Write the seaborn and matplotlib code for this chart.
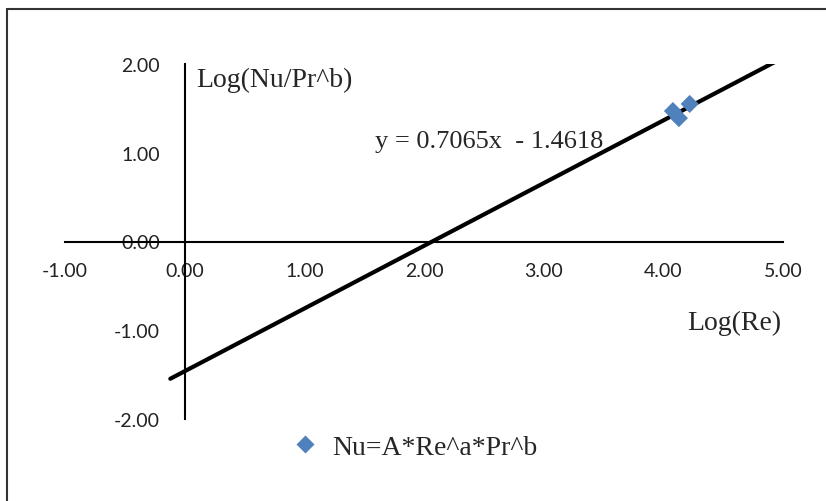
import numpy as np
import pandas as pd
import matplotlib.pyplot as plt
import seaborn as sns
from matplotlib.lines import Line2D

# dados
log_re = [4.08, 4.13, 4.22]
log_nu_pr = [1.47, 1.39, 1.55]
serie = "Nu=A*Re^a*Pr^b"

# linha de tendencia (Excel)
inclinacao = 0.7065
intercepto = -1.4618
tend_x = [-0.12, 5.0]

x_ticks = [-1, 0, 1, 2, 3, 4, 5]
y_ticks = [-2, -1, 0, 1, 2]

df = pd.DataFrame({"x": log_re, "y": log_nu_pr, "serie": serie})
tend = pd.DataFrame({"x": tend_x})
tend["y"] = inclinacao * tend["x"] + intercepto

sns.set_style("white")
plt.rcParams["font.family"] = ["Lato", "DejaVu Sans"]

fig = plt.figure(figsize=(8.26, 5.02), dpi=100)
ax = fig.add_axes([65 / 826, 1 - 420 / 502, 718 / 826, 355 / 502])

sns.lineplot(data=tend, x="x", y="y", color="black", linewidth=3, ax=ax, legend=False)
sns.scatterplot(data=df, x="x", y="y", hue="serie", palette=["#4F81BD"], marker="D",
                s=85, edgecolor="none", ax=ax, zorder=3)

ax.set_xlim(-1, 5)
ax.set_ylim(-2, 2)
ax.set_xticks(x_ticks)
ax.set_yticks(y_ticks)
ax.set_xticklabels([f"{v:.2f}" for v in x_ticks])
ax.set_yticklabels([f"{v:.2f}" for v in y_ticks])
ax.tick_params(axis="x", length=0, pad=15, labelsize=14, colors="#222222")
ax.tick_params(axis="y", length=0, pad=18, labelsize=14, colors="#222222")
ax.set_xlabel("")
ax.set_ylabel("")

# eixos cruzando na origem
for lado in ["top", "right"]:
    ax.spines[lado].set_visible(False)
ax.spines["left"].set_position(("data", 0))
ax.spines["bottom"].set_position(("data", 0))
for lado in ["left", "bottom"]:
    ax.spines[lado].set_color("black")
    ax.spines[lado].set_linewidth(1.5)
ax.patch.set_alpha(0)

serif = ["Liberation Serif", "DejaVu Serif"]
ax.text(0.094, 1.83, "Log(Nu/Pr^b)", family=serif, fontsize=20, va="center", ha="left")
ax.text(4.2, -0.91, "Log(Re)", family=serif, fontsize=20, va="center", ha="left")
ax.text(1.59, 1.13, "y = 0.7065x  - 1.4618", family=serif, fontsize=19, va="center", ha="left")

ax.legend(loc="center", bbox_to_anchor=(0.5, 0.107), bbox_transform=fig.transFigure,
          frameon=False, prop={"family": serif, "size": 20}, handletextpad=0.4,
          handlelength=1.2, markerscale=1.0)

# moldura do grafico
fig.add_artist(Line2D([7 / 826, 7 / 826], [0, 1 - 10 / 502], color="#333333", linewidth=1.5))
fig.add_artist(Line2D([7 / 826, 1], [1 - 10 / 502, 1 - 10 / 502], color="#333333", linewidth=1.5))

fig.savefig("out.png", dpi=100)
